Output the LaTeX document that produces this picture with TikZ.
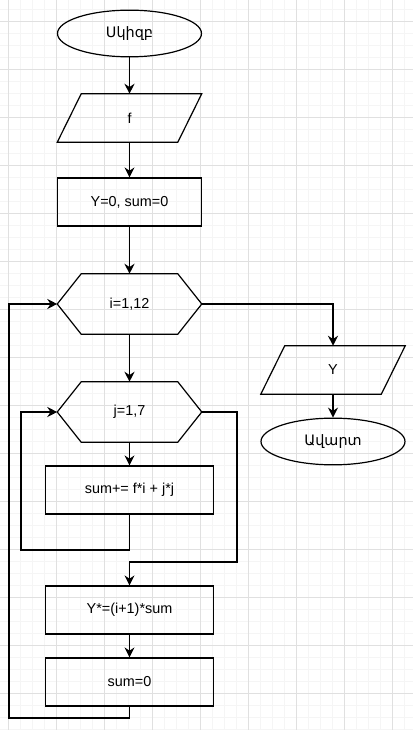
\documentclass[tikz,border=0pt]{standalone}
\usepackage{fontspec}
\setmainfont{Liberation Sans}
\newfontfamily\armfont{DejaVu Sans}
\usetikzlibrary{arrows.meta,shapes.geometric}
\tikzset{>={Stealth[length=7.5pt,width=7.5pt,inset=2.5pt]}}
\colorlet{majorgrid}{black!12}
\colorlet{minorgrid}{black!4}
\tikzset{
  txt/.style={font=\fontsize{10.8}{13}\selectfont, inner sep=0pt},
  edge/.style={line width=0.9pt, line join=miter},
  term/.style={txt, ellipse, draw, edge, minimum width=108pt, minimum height=35pt},
  proc/.style={txt, rectangle, draw, edge, minimum width=126pt, minimum height=36pt},
  slot/.style={txt, rectangle, minimum width=108pt, minimum height=36pt},
  loopbox/.style={txt, rectangle, minimum width=108pt, minimum height=45pt}
}
\newcommand{\slantframe}[1]{%
  \draw[edge] ([xshift=18pt]#1.north west) -- (#1.north east)
    -- ([xshift=-18pt]#1.south east) -- (#1.south west) -- cycle;}
\newcommand{\hexframe}[1]{%
  \draw[edge] (#1.west) -- ([xshift=18pt]#1.north west) -- ([xshift=-18pt]#1.north east)
    -- (#1.east) -- ([xshift=-18pt]#1.south east) -- ([xshift=18pt]#1.south west) -- cycle;}

\begin{document}
\begin{tikzpicture}[x=0.75pt,y=-0.75pt]
  \useasboundingbox (0,0) rectangle (413,730);
  % grid
  \foreach \gx in {8,20,...,412} \draw[minorgrid,line width=0.6pt] (\gx,0) -- (\gx,730);
  \foreach \gy in {9,21,...,729} \draw[minorgrid,line width=0.6pt] (0,\gy) -- (413,\gy);
  \foreach \gx in {8,56,...,412} \draw[majorgrid,line width=0.6pt] (\gx,0) -- (\gx,730);
  \foreach \gy in {21,69,...,729} \draw[majorgrid,line width=0.6pt] (0,\gy) -- (413,\gy);
  % main column
  \node[term] (start) at (129.5,33.5) {\armfont Սկիզբ};
  \node[slot] (inf)   at (129.5,118)  {f};
  \slantframe{inf}
  \node[proc, minimum width=108pt] (init) at (129.5,202) {Y=0, sum=0};
  \node[loopbox] (fori) at (129.5,304) {i=1,12};
  \hexframe{fori}
  \node[loopbox] (forj) at (129.5,412) {j=1,7};
  \hexframe{forj}
  \node[proc] (body)  at (129.5,490) {sum+= f*i + j*j};
  \node[proc] (upd)   at (129.5,610) {Y*=(i+1)*sum};
  \node[proc] (reset) at (129.5,682) {sum=0};
  % output branch
  \node[slot] (outY)   at (333,370)   {Y};
  \slantframe{outY}
  \node[term] (finish) at (333,441.5) {\armfont Ավարտ};
  % bends of the loops
  \coordinate (jback) at (21,550);
  \coordinate (jexit) at (237,562);
  \coordinate (iback) at (9,718);
  % connectors
  \draw[->,edge] (start) -- (inf);
  \draw[->,edge] (inf) -- (init);
  \draw[->,edge] (init) -- (fori);
  \draw[->,edge] (fori) -- (forj);
  \draw[->,edge] (forj) -- (body);
  \draw[->,edge] (body.south) |- (jback) |- (forj.west);
  \draw[->,edge] (forj.east) -| (jexit) -| (upd.north);
  \draw[->,edge] (upd) -- (reset);
  \draw[->,edge] (reset.south) |- (iback) |- (fori.west);
  \draw[->,edge] (fori.east) -| (outY.north);
  \draw[->,edge] (outY) -- (finish);
\end{tikzpicture}
\end{document}
